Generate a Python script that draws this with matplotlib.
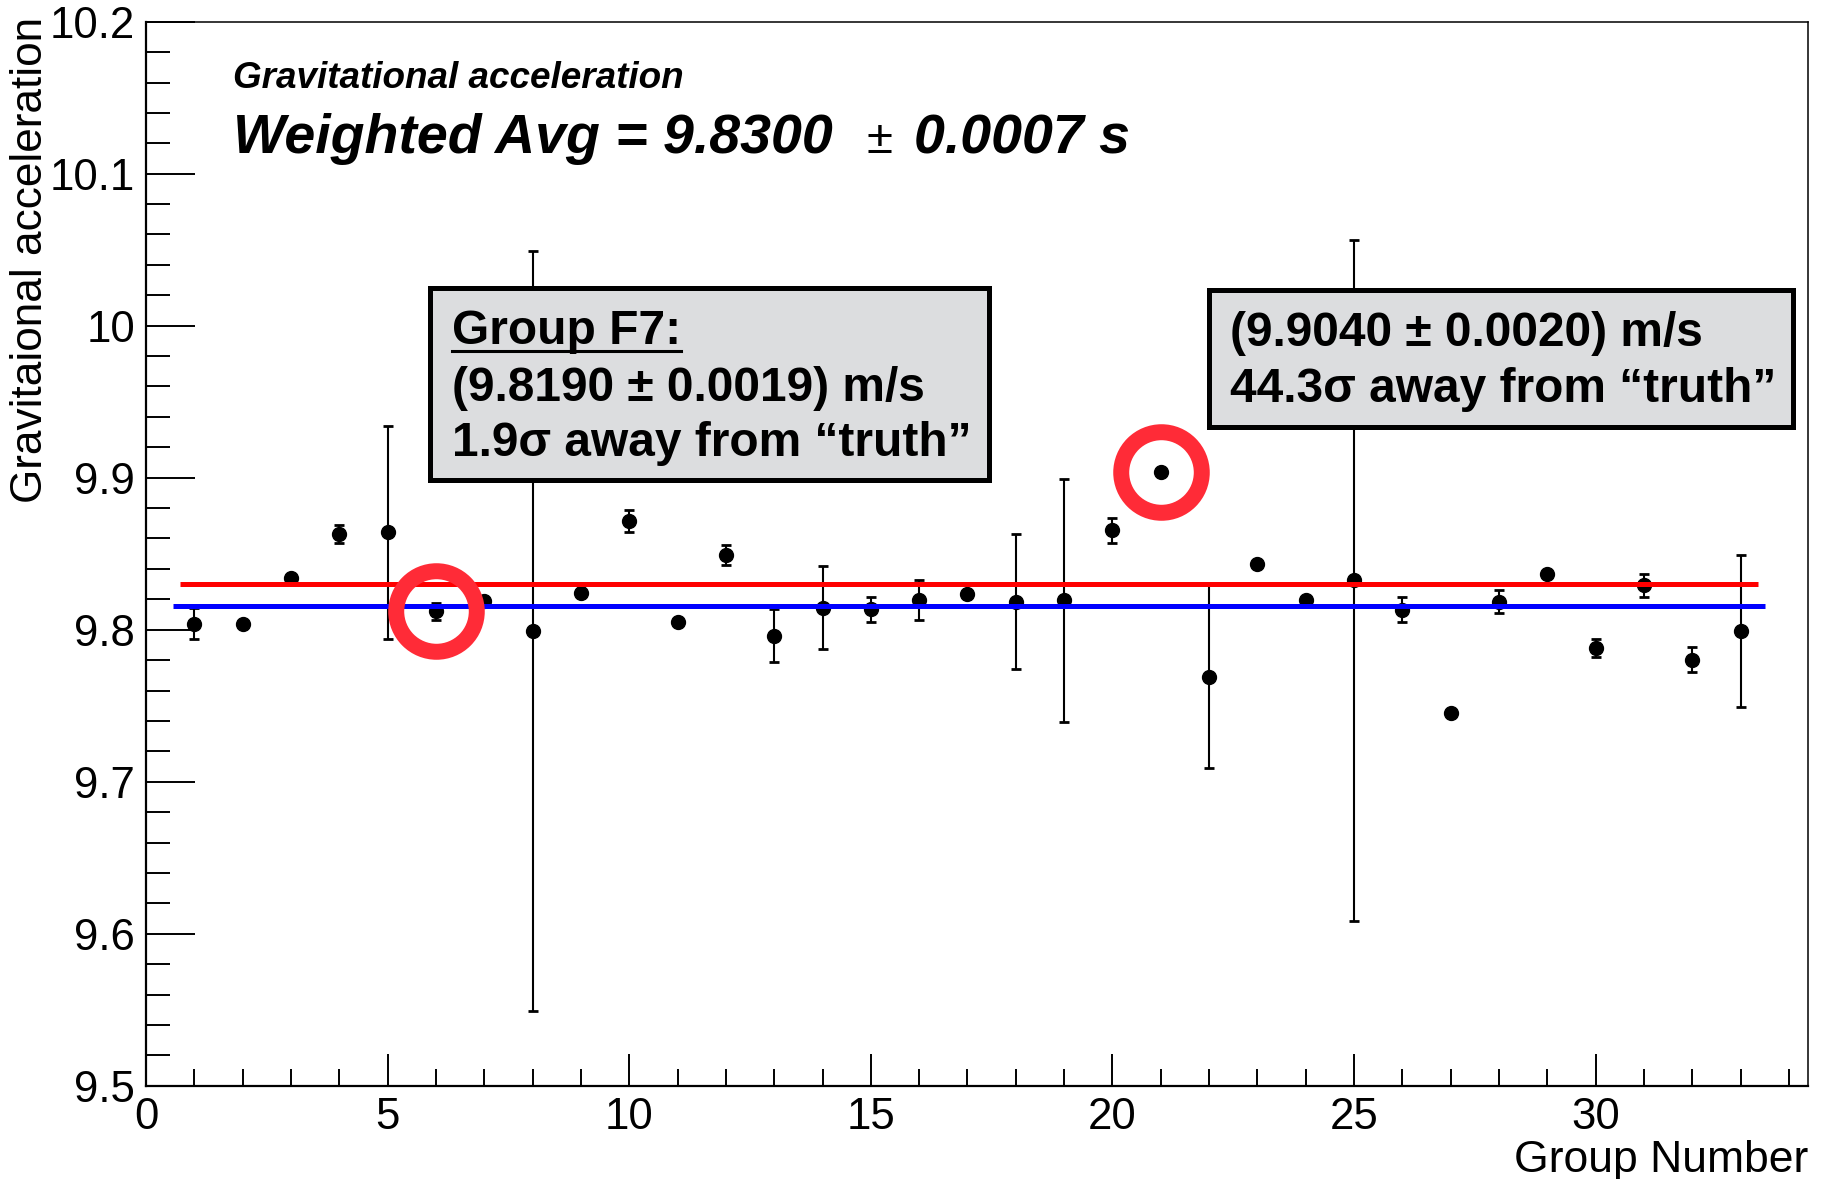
import matplotlib
matplotlib.use("Agg")
import matplotlib.pyplot as plt
from matplotlib.patches import Rectangle
from matplotlib.lines import Line2D
from matplotlib.ticker import MultipleLocator

plt.rcParams['font.family'] = ['Liberation Sans', 'DejaVu Sans']

# Measured g per group
group = list(range(1, 34))
g_val = [9.804, 9.804, 9.834, 9.863, 9.864, 9.812, 9.819, 9.799, 9.824, 9.8715,
         9.805, 9.849, 9.796, 9.8145, 9.8133, 9.8194, 9.8232, 9.8185, 9.8194, 9.8654,
         9.904, 9.7692, 9.8434, 9.8194, 9.8326, 9.813, 9.7452, 9.8183, 9.8368, 9.788,
         9.8293, 9.7803, 9.799]
g_err = [0.010, 0.002, 0.002, 0.006, 0.070, 0.0055, 0.0019, 0.250, 0.002, 0.0075,
         0.002, 0.0066, 0.0174, 0.0271, 0.0084, 0.0132, 0.002, 0.0443, 0.080, 0.0083,
         0.0020, 0.060, 0.002, 0.002, 0.224, 0.0082, 0.002, 0.0075, 0.002, 0.006,
         0.0075, 0.0084, 0.050]

weighted_avg = 9.8300
truth = 9.8154
avg_span = (0.70, 33.35)
truth_span = (0.55, 33.50)

highlighted = [6, 21]

W, H = 1826, 1179
fig = plt.figure(figsize=(W / 100, H / 100), dpi=100)
ax = fig.add_axes([146 / W, 1 - 1085.7 / H, (1808.3 - 146) / W, (1085.7 - 21.7) / H])
ax.set_xlim(0, 34.4)
ax.set_ylim(9.5, 10.2)

# error bars underneath, markers on top so tiny caps stay hidden
ax.errorbar(group, g_val, yerr=g_err, fmt='none', ecolor='black',
            elinewidth=1.5, capsize=3.4, capthick=2.0, zorder=2)
ax.plot(group, g_val, 'o', color='black', ms=10, zorder=3)

# reference lines
ax.hlines(weighted_avg, *avg_span, color='#ff0000', lw=3.6, zorder=4)
ax.hlines(truth, *truth_span, color='#0000ff', lw=3.6, zorder=4)

# rings around highlighted groups
hx = highlighted
hy = [g_val[i - 1] for i in highlighted]
ax.plot(hx, hy, 'o', ms=58, mfc='none', mec='#ff2b37', mew=11.5, zorder=6,
        clip_on=False)

# axes styling
for side in ['left', 'bottom']:
    ax.spines[side].set_linewidth(1.6)
for side in ['top', 'right']:
    ax.spines[side].set_linewidth(1.1)
ax.yaxis.set_major_locator(MultipleLocator(0.1))
ax.yaxis.set_minor_locator(MultipleLocator(0.02))
ax.xaxis.set_major_locator(MultipleLocator(5))
ax.xaxis.set_minor_locator(MultipleLocator(1))
ax.tick_params(axis='y', which='major', direction='in', length=35, width=1.4,
               labelsize=31.5, pad=8)
ax.tick_params(axis='y', which='minor', direction='in', length=17.6, width=1.4)
ax.tick_params(axis='x', which='major', direction='in', length=23, width=1.4,
               labelsize=31.5, pad=8)
ax.tick_params(axis='x', which='minor', direction='in', length=12, width=1.4)
ax.set_yticks([9.5, 9.6, 9.7, 9.8, 9.9, 10.0, 10.1, 10.2])
ax.set_yticklabels(['9.5', '9.6', '9.7', '9.8', '9.9', '10', '10.1', '10.2'])
ax.set_xticks([0, 5, 10, 15, 20, 25, 30])
ax.set_xticklabels(['0', '5', '10', '15', '20', '25', '30'])

fig.text(31 / W, 1 - 17 / H, 'Gravitaional acceleration', rotation=90,
         ha='center', va='top', fontsize=31.8)
fig.text(1808 / W, 1 - 1171.7 / H, 'Group Number', ha='right', va='baseline',
         fontsize=32)

# headline
ax.text(1.81, 10.1563, 'Gravitational acceleration', fontsize=26.6,
        fontweight='bold', fontstyle='italic', va='baseline', ha='left')
ax.text(1.81, 10.1134, 'Weighted Avg = 9.8300', fontsize=40,
        fontweight='bold', fontstyle='italic', va='baseline', ha='left')
ax.text(15.17, 10.1134, '\u00b1', fontsize=34, va='baseline', ha='center')
ax.text(15.9, 10.1134, '0.0007 s', fontsize=40,
        fontweight='bold', fontstyle='italic', va='baseline', ha='left')

# annotation boxes
box_fc = '#dcdddf'
ax.add_patch(Rectangle((5.874, 9.8986), 17.44 - 5.874, 10.0248 - 9.8986,
                       facecolor=box_fc, edgecolor='black', lw=3.6, zorder=5))
ax.add_patch(Rectangle((21.99, 9.9335), 34.09 - 21.99, 10.0235 - 9.9335,
                       facecolor=box_fc, edgecolor='black', lw=3.6, zorder=5,
                       clip_on=False))

box_fs = 34.5
t1 = ax.text(6.33, 9.9882, 'Group F7:', fontsize=box_fs, fontweight='bold',
             va='baseline', ha='left', zorder=7)
ax.text(6.33, 9.9506, '(9.8190 \u00b1 0.0019) m/s', fontsize=box_fs,
        fontweight='bold', va='baseline', ha='left', zorder=7)
ax.text(6.33, 9.9144, '1.9\u03c3 away from \u201ctruth\u201d', fontsize=box_fs,
        fontweight='bold', va='baseline', ha='left', zorder=7)
ax.text(22.44, 9.9864, '(9.9040 \u00b1 0.0020) m/s', fontsize=box_fs,
        fontweight='bold', va='baseline', ha='left', zorder=7)
ax.text(22.44, 9.9495, '44.3\u03c3 away from \u201ctruth\u201d', fontsize=box_fs,
        fontweight='bold', va='baseline', ha='left', zorder=7)

# underline the group heading
fig.canvas.draw()
bb = t1.get_window_extent(fig.canvas.get_renderer())
inv = ax.transData.inverted()
ux0 = inv.transform((bb.x0, 0))[0]
ux1 = inv.transform((bb.x1, 0))[0]
ax.add_line(Line2D([ux0, ux1], [9.9836, 9.9836], color='black', lw=2.2, zorder=7))

fig.savefig('out.png', dpi=100)
